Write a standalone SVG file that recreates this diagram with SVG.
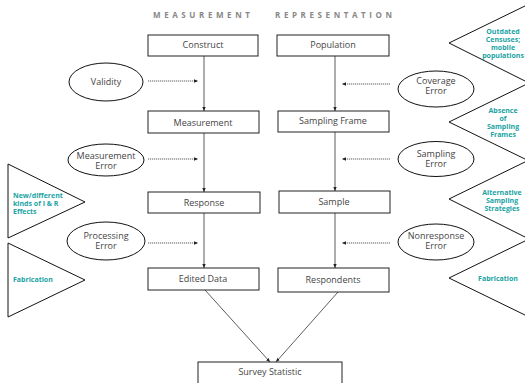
<svg xmlns="http://www.w3.org/2000/svg" width="525" height="383" viewBox="0 0 525 383">
<defs>
<style>
.bx{fill:#fff;stroke:#222;stroke-width:1}
.el{fill:#fff;stroke:#111;stroke-width:1}
.tr{fill:#fff;stroke:#111;stroke-width:1}
.t{font-family:"Open Sans","Liberation Sans",sans-serif;font-size:9px;fill:#444;text-anchor:middle}
.tt{font-family:"Open Sans","Liberation Sans",sans-serif;font-size:8px;font-weight:bold;fill:#888;letter-spacing:3.6px}
.g{font-family:"Open Sans","Liberation Sans",sans-serif;font-size:7px;font-weight:bold;fill:#1aa3a3}
.gc{text-anchor:middle}
.ln{stroke:#333;stroke-width:0.8;fill:none}
.dl{stroke:#333;stroke-width:0.8;fill:none;stroke-dasharray:1.2 0.8}
</style>
<marker id="ah" viewBox="0 0 6 6" refX="6" refY="3" markerWidth="5" markerHeight="5" orient="auto">
<path d="M0,0.5 L6,3 L0,5.5 z" fill="#222"/>
</marker>
</defs>
<rect width="525" height="383" fill="#fff"/>

<text class="tt" x="153" y="18">MEASUREMENT</text>
<text class="tt" x="275" y="18">REPRESENTATION</text>

<g id="connectors">
<line class="ln" x1="204" y1="56" x2="204" y2="111" marker-end="url(#ah)"/>
<line class="ln" x1="204" y1="133" x2="204" y2="192" marker-end="url(#ah)"/>
<line class="ln" x1="204" y1="213" x2="204" y2="268" marker-end="url(#ah)"/>
<line class="ln" x1="335" y1="56" x2="335" y2="111" marker-end="url(#ah)"/>
<line class="ln" x1="335" y1="132" x2="335" y2="191" marker-end="url(#ah)"/>
<line class="ln" x1="335" y1="213" x2="335" y2="268" marker-end="url(#ah)"/>
<line class="ln" x1="205" y1="290" x2="270" y2="362" marker-end="url(#ah)"/>
<line class="ln" x1="338" y1="292" x2="276" y2="362" marker-end="url(#ah)"/>
<line class="dl" x1="148" y1="81" x2="198" y2="81" marker-end="url(#ah)"/>
<line class="dl" x1="148" y1="159" x2="198" y2="159" marker-end="url(#ah)"/>
<line class="dl" x1="148" y1="243" x2="198" y2="243" marker-end="url(#ah)"/>
<line class="dl" x1="390" y1="84" x2="342" y2="84" marker-end="url(#ah)"/>
<line class="dl" x1="390" y1="159" x2="342" y2="159" marker-end="url(#ah)"/>
<line class="dl" x1="390" y1="243" x2="342" y2="243" marker-end="url(#ah)"/>
</g>

<g id="construct"><rect class="bx" x="148" y="35" width="110" height="21"/><text class="t" x="203" y="48">Construct</text></g>
<g id="measurement"><rect class="bx" x="148" y="111" width="111" height="22"/><text class="t" x="203" y="126">Measurement</text></g>
<g id="response"><rect class="bx" x="148" y="192" width="112" height="21"/><text class="t" x="204" y="206">Response</text></g>
<g id="edited-data"><rect class="bx" x="148" y="268" width="111" height="22"/><text class="t" x="203" y="282">Edited Data</text></g>

<g id="population"><rect class="bx" x="277" y="35" width="112" height="21"/><text class="t" x="333" y="48">Population</text></g>
<g id="sampling-frame"><rect class="bx" x="278" y="111" width="111" height="21"/><text class="t" x="333" y="124">Sampling Frame</text></g>
<g id="sample"><rect class="bx" x="279" y="191" width="111" height="22"/><text class="t" x="334" y="205">Sample</text></g>
<g id="respondents"><rect class="bx" x="278" y="268" width="111" height="24"/><text class="t" x="333" y="283">Respondents</text></g>

<g id="survey-statistic"><rect class="bx" x="198" y="362" width="144" height="24"/><text class="t" x="270" y="375">Survey Statistic</text></g>

<g id="validity"><ellipse class="el" cx="106" cy="82" rx="37" ry="19"/><text class="t" x="106" y="85">Validity</text></g>
<g id="measurement-error"><ellipse class="el" cx="106" cy="160" rx="38" ry="16"/><text class="t" x="106" y="159">Measurement</text><text class="t" x="106" y="169">Error</text></g>
<g id="processing-error"><ellipse class="el" cx="106" cy="241" rx="39" ry="19"/><text class="t" x="106" y="239">Processing</text><text class="t" x="106" y="249">Error</text></g>

<g id="coverage-error"><ellipse class="el" cx="436" cy="89" rx="38" ry="18"/><text class="t" x="436" y="84">Coverage</text><text class="t" x="436" y="94">Error</text></g>
<g id="sampling-error"><ellipse class="el" cx="436" cy="159" rx="38" ry="17.5"/><text class="t" x="436" y="157">Sampling</text><text class="t" x="436" y="167">Error</text></g>
<g id="nonresponse-error"><ellipse class="el" cx="436" cy="242" rx="38" ry="18"/><text class="t" x="436" y="239">Nonresponse</text><text class="t" x="436" y="249">Error</text></g>

<g id="tri-ir-effects"><polygon class="tr" points="8,164 85,202 8,238"/><text class="g" x="13" y="198">New/different</text><text class="g" x="13" y="206">kinds of I &amp; R</text><text class="g" x="13" y="214">Effects</text></g>
<g id="tri-fabrication-left"><polygon class="tr" points="8,243 85,280 8,317"/><text class="g" x="13" y="282">Fabrication</text></g>

<g id="tri-outdated"><polygon class="tr" points="527,5 449,43 527,82"/><text class="g gc" x="503" y="34">Outdated</text><text class="g gc" x="503" y="42">Censuses;</text><text class="g gc" x="503" y="50">mobile</text><text class="g gc" x="503" y="58">populations</text></g>
<g id="tri-absence"><polygon class="tr" points="527,84 449,122 527,160"/><text class="g gc" x="503" y="113">Absence</text><text class="g gc" x="503" y="121">of</text><text class="g gc" x="503" y="129">Sampling</text><text class="g gc" x="503" y="137">Frames</text></g>
<g id="tri-alternative"><polygon class="tr" points="527,161 449,199 527,238"/><text class="g gc" x="502" y="195">Alternative</text><text class="g gc" x="502" y="203">Sampling</text><text class="g gc" x="502" y="211">Strategies</text></g>
<g id="tri-fabrication-right"><polygon class="tr" points="527,240 449,278 527,316"/><text class="g gc" x="498" y="281">Fabrication</text></g>
</svg>
